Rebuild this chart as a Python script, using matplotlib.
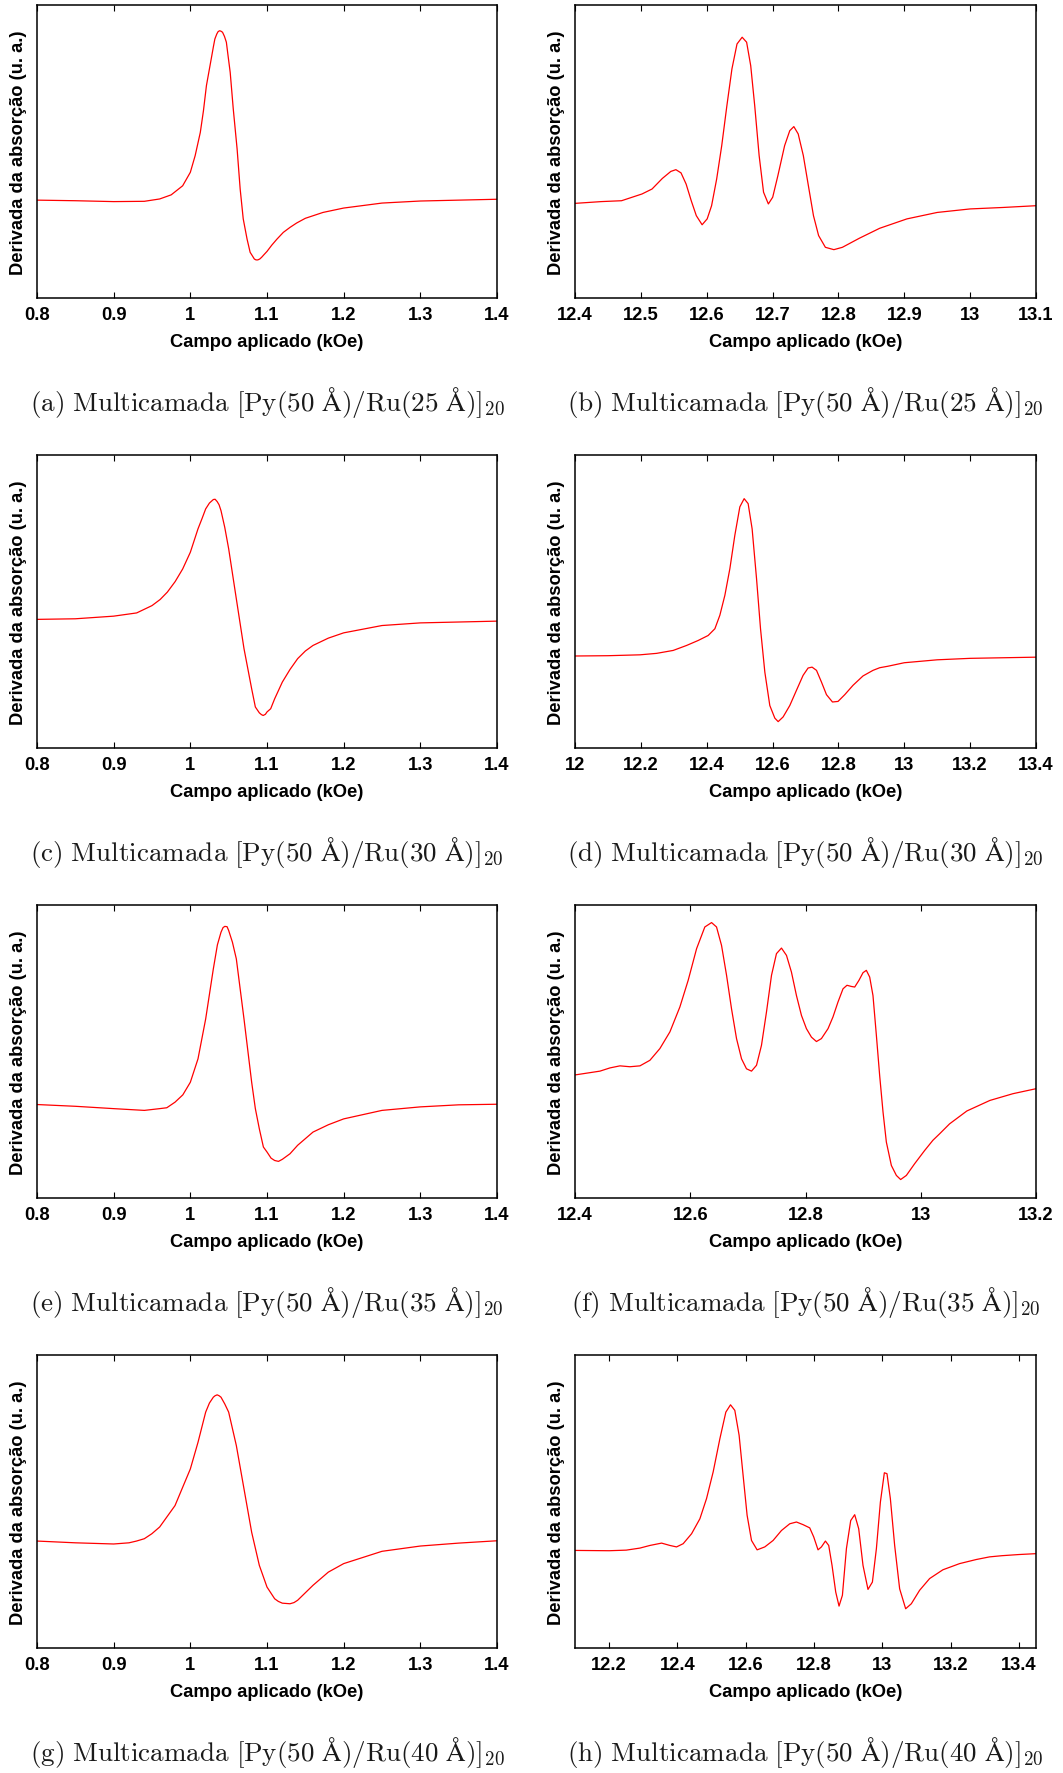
import numpy as np
import matplotlib
matplotlib.use('Agg')
import matplotlib.pyplot as plt

plt.rcParams['mathtext.fontset'] = 'cm'

# (a) Ru 25 A, low field mode
field_a = [0.80, 0.85, 0.90, 0.94, 0.96, 0.975, 0.99, 1.000, 1.0063, 1.013, 1.0171, 1.021, 1.028,
           1.0301, 1.032, 1.0345, 1.0362, 1.038, 1.0397, 1.042, 1.0445, 1.047, 1.0492, 1.052,
           1.056, 1.061, 1.065, 1.069, 1.074, 1.078, 1.0809, 1.0835, 1.0857, 1.088, 1.0905,
           1.093, 1.0961, 1.100, 1.1061, 1.113, 1.1213, 1.130, 1.1387, 1.150, 1.173, 1.200,
           1.250, 1.300, 1.350, 1.400]
signal_a = [33.4, 33.2, 32.9, 33.0, 33.8, 35.2, 38.3, 42.9, 48.6, 56.5, 63.9, 72.5, 82.7,
            85.8, 88.4, 90.1, 90.9, 91.2, 91.1, 90.7, 89.3, 87.3, 82.7, 77.0,
            64.5, 50.9, 37.2, 27.0, 20.1, 15.6, 14.4, 13.3, 13.0, 13.0, 13.3,
            13.9, 14.8, 15.9, 18.0, 20.1, 22.4, 24.1, 25.6, 27.2, 29.2, 30.7,
            32.4, 33.1, 33.4, 33.7]

# (b) Ru 25 A, high field
field_b = [12.40, 12.42, 12.4398, 12.4707, 12.5017, 12.517, 12.5326, 12.5455, 12.5532, 12.561,
           12.5687, 12.5765, 12.5842, 12.593, 12.6007, 12.6074, 12.6151, 12.6228, 12.6306,
           12.6383, 12.646, 12.6538, 12.6606, 12.6668, 12.6729, 12.6796, 12.6863, 12.6936,
           12.7002, 12.708, 12.7183, 12.7261, 12.7323, 12.7389, 12.7467, 12.7544, 12.7621,
           12.7699, 12.7802, 12.7931, 12.806, 12.8318, 12.8627, 12.904, 12.95, 13.00, 13.05, 13.10]
signal_b = [32.3, 32.6, 32.9, 33.2, 35.5, 37.2, 40.8, 43.2, 43.8, 42.7,
            38.9, 33.2, 28.1, 25.0, 27.0, 31.5, 40.6, 52.0, 65.6,
            78.2, 86.7, 89.0, 87.3, 79.3, 65.6, 48.6, 36.1, 32.1,
            34.4, 41.7, 52.0, 57.1, 58.5, 56.0, 48.6, 38.3, 28.1,
            21.3, 17.3, 16.5, 17.3, 20.4, 23.8, 27.0, 29.2, 30.4, 30.9, 31.5]

# (c) Ru 30 A, low field
field_c = [0.80, 0.85, 0.90, 0.93, 0.95, 0.9607, 0.97, 0.9802, 0.99, 1.00, 1.005, 1.01, 1.0154,
           1.02, 1.0249, 1.03, 1.0323, 1.035, 1.0375, 1.04, 1.0449, 1.05, 1.06, 1.07, 1.08,
           1.0848, 1.09, 1.0927, 1.095, 1.0979, 1.10, 1.1048, 1.11, 1.12, 1.13, 1.14, 1.15,
           1.16, 1.18, 1.20, 1.25, 1.30, 1.35, 1.40]
signal_c = [43.9, 44.1, 45.0, 46.1, 48.6, 50.7, 53.2, 56.8, 61.1, 66.8, 70.8, 74.8, 78.4,
            81.6, 83.6, 84.8, 84.9, 84.1, 83.0, 81.0, 75.3, 68.0, 50.9, 33.9, 20.2,
            14.0, 12.0, 11.4, 11.1, 11.5, 12.3, 13.4, 16.8, 22.5, 26.8, 30.5, 33.1,
            35.0, 37.5, 39.3, 41.8, 42.7, 43.0, 43.3]

# (d) Ru 30 A, high field
field_d = [12.00, 12.10, 12.1972, 12.2479, 12.2982, 12.3389, 12.3741, 12.4044, 12.4248, 12.4399,
           12.4551, 12.4703, 12.4854, 12.5006, 12.5137, 12.5258, 12.5379, 12.5513, 12.5634,
           12.5765, 12.5916, 12.6068, 12.617, 12.632, 12.6523, 12.6726, 12.6927, 12.7079, 12.72,
           12.7334, 12.7485, 12.7637, 12.7819, 12.7988, 12.8192, 12.8443, 12.8747, 12.905,
           12.9254, 12.95, 13.00, 13.10, 13.20, 13.40]
signal_d = [31.4, 31.5, 31.8, 32.3, 33.3, 35.0, 36.7, 38.4, 40.7, 45.3,
            52.1, 61.2, 72.6, 82.3, 85.1, 83.4, 74.8, 57.8, 40.7,
            25.9, 14.5, 10.2, 9.0, 10.6, 14.5, 19.7, 24.8, 27.3, 27.6,
            26.5, 22.5, 18.2, 15.7, 15.9, 18.2, 21.4, 24.6, 26.5,
            27.4, 27.9, 29.1, 30.1, 30.6, 31.0]

# (e) Ru 35 A, low field
field_e = [0.80, 0.85, 0.90, 0.94, 0.96, 0.9693, 0.98, 0.9902, 1.00, 1.01, 1.02, 1.03, 1.0353,
           1.04, 1.0427, 1.045, 1.0479, 1.05, 1.0549, 1.06, 1.07, 1.08, 1.0848, 1.09, 1.0953,
           1.10, 1.1053, 1.11, 1.115, 1.12, 1.13, 1.14, 1.16, 1.18, 1.20, 1.25, 1.30, 1.35, 1.40]
signal_e = [31.9, 31.3, 30.5, 29.9, 30.5, 30.8, 32.7, 35.2, 39.5, 47.5, 61.1, 78.2, 86.4,
            90.7, 92.3, 92.7, 92.6, 91.3, 87.3, 81.6, 61.1, 39.5, 30.5, 23.6, 17.4,
            15.7, 13.6, 12.8, 12.5, 13.2, 15.1, 18.0, 22.5, 25.0, 27.0, 29.9, 31.1, 31.8, 32.0]

# (f) Ru 35 A, high field
field_f = [12.40, 12.42, 12.4433, 12.4607, 12.478, 12.4953, 12.5127, 12.53, 12.5473, 12.5647,
           12.582, 12.5964, 12.611, 12.6253, 12.637, 12.6456, 12.6543, 12.663, 12.6716, 12.6803,
           12.689, 12.6976, 12.7063, 12.715, 12.7236, 12.7323, 12.741, 12.7496, 12.7583, 12.767,
           12.7756, 12.7843, 12.793, 12.8016, 12.8103, 12.819, 12.8276, 12.8391, 12.8477,
           12.8564, 12.8651, 12.872, 12.8796, 12.8854, 12.8928, 12.8998, 12.9056, 12.9114,
           12.9171, 12.923, 12.9287, 12.9345, 12.9403, 12.949, 12.9577, 12.9651, 12.975,
           12.9894, 13.0067, 13.0211, 13.0327, 13.05, 13.08, 13.12, 13.16, 13.20]
signal_f = [42.0, 42.6, 43.3, 44.4, 45.1, 44.8, 45.1, 47.0, 51.0, 56.7,
            65.2, 74.3, 85.1, 92.5, 94.0, 92.5, 86.2, 76.0, 64.6, 54.4,
            47.5, 44.1, 43.3, 45.3, 52.1, 63.5, 76.0, 83.4, 85.3, 82.8,
            77.1, 69.1, 62.3, 57.8, 54.9, 53.4, 54.4, 57.8, 61.8,
            66.9, 71.4, 72.6, 72.2, 72.0, 74.3, 76.9, 77.7, 75.4,
            69.1, 55.5, 41.8, 29.4, 19.1, 11.1, 7.7, 6.3, 7.7,
            11.7, 16.2, 19.7, 21.9, 25.3, 29.7, 33.3, 35.6, 37.3]

# (g) Ru 40 A, low field
field_g = [0.80, 0.85, 0.90, 0.92, 0.9298, 0.94, 0.9498, 0.96, 0.98, 1.00, 1.01, 1.02, 1.0249,
           1.03, 1.0323, 1.035, 1.0375, 1.04, 1.0449, 1.05, 1.06, 1.07, 1.08, 1.09, 1.10, 1.11,
           1.1148, 1.12, 1.13, 1.1352, 1.14, 1.16, 1.18, 1.20, 1.25, 1.30, 1.35, 1.40]
signal_g = [36.5, 35.9, 35.5, 35.9, 36.5, 37.3, 39.0, 41.3, 48.6, 61.1, 70.2, 80.5, 83.6,
            85.6, 86.1, 86.4, 86.1, 85.6, 83.3, 80.5, 69.1, 54.3, 39.5, 28.2, 20.8, 16.8,
            15.9, 15.3, 15.1, 15.5, 16.3, 21.4, 25.9, 28.8, 33.0, 34.8, 35.8, 36.6]

# (h) Ru 40 A, high field
field_h = [12.10, 12.20, 12.25, 12.2901, 12.3194, 12.3536, 12.3779, 12.3974, 12.4168, 12.4414,
           12.4657, 12.4852, 12.5046, 12.5242, 12.5417, 12.5554, 12.568, 12.5806, 12.5923,
           12.604, 12.6169, 12.6333, 12.6558, 12.6801, 12.7046, 12.7289, 12.7485, 12.7678,
           12.7874, 12.7991, 12.8117, 12.8216, 12.8333, 12.843, 12.8527, 12.8635, 12.8732,
           12.8831, 12.8948, 12.9074, 12.9191, 12.9308, 12.9434, 12.958, 12.9709, 12.9826,
           12.9943, 13.0059, 13.0136, 13.0235, 13.0361, 13.0507, 13.0683, 13.0849, 13.1092,
           13.1385, 13.1774, 13.2262, 13.2751, 13.314, 13.35, 13.40, 13.45]
signal_h = [33.3, 33.2, 33.4, 34.1, 35.0, 35.8, 35.0, 34.5, 35.6, 39.0,
            44.1, 51.0, 60.1, 71.4, 80.5, 83.0, 81.1, 72.6, 58.9,
            45.3, 36.7, 33.5, 34.5, 36.7, 40.1, 42.4, 43.0, 42.1,
            41.0, 37.9, 33.5, 34.5, 36.5, 35.0, 28.2, 19.1, 14.3,
            18.0, 33.9, 43.5, 45.5, 40.7, 28.2, 20.0, 22.5, 33.9,
            49.8, 59.8, 59.5, 51.0, 35.0, 20.2, 13.4, 15.1, 19.7,
            23.7, 26.7, 28.8, 30.2, 31.1, 31.5, 31.9, 32.2]

fields = [field_a, field_b, field_c, field_d, field_e, field_f, field_g, field_h]
signals = [signal_a, signal_b, signal_c, signal_d, signal_e, signal_f, signal_g, signal_h]

xlims = [(0.8, 1.4), (12.4, 13.1), (0.8, 1.4), (12.0, 13.4),
         (0.8, 1.4), (12.4, 13.2), (0.8, 1.4), (12.1, 13.45)]
low_ticks = [0.8, 0.9, 1.0, 1.1, 1.2, 1.3, 1.4]
low_labels = ['0.8', '0.9', '1', '1.1', '1.2', '1.3', '1.4']
xticks = [low_ticks, [12.4, 12.5, 12.6, 12.7, 12.8, 12.9, 13.0, 13.1],
          low_ticks, [12.0, 12.2, 12.4, 12.6, 12.8, 13.0, 13.2, 13.4],
          low_ticks, [12.4, 12.6, 12.8, 13.0, 13.2],
          low_ticks, [12.2, 12.4, 12.6, 12.8, 13.0, 13.2, 13.4]]
xticklabels = [low_labels, ['12.4', '12.5', '12.6', '12.7', '12.8', '12.9', '13', '13.1'],
               low_labels, ['12', '12.2', '12.4', '12.6', '12.8', '13', '13.2', '13.4'],
               low_labels, ['12.4', '12.6', '12.8', '13', '13.2'],
               low_labels, ['12.2', '12.4', '12.6', '12.8', '13', '13.2', '13.4']]
letters = ['a', 'b', 'c', 'd', 'e', 'f', 'g', 'h']
ru_thickness = ['25', '25', '30', '30', '35', '35', '40', '40']

W, H = 1063.0, 1774.0
fig = plt.figure(figsize=(W / 100, H / 100), dpi=100)

col_left = [37, 575]
col_width = [460, 461]
row_top = [6, 456, 906, 1356]
ax_h = 293

tick_font = dict(family='Liberation Sans', weight='bold', size=13.2)
angstrom = '\u212b'

for i in range(8):
    r, c = i // 2, i % 2
    ax = fig.add_axes([col_left[c] / W, 1 - (row_top[r] + ax_h) / H,
                       col_width[c] / W, ax_h / H])
    ax.plot(fields[i], signals[i], '-', color='red', lw=0.9)
    ax.set_xlim(*xlims[i])
    ax.set_ylim(0, 100)
    ax.set_yticks([])
    ax.set_xticks(xticks[i])
    ax.set_xticklabels(xticklabels[i], fontdict=tick_font)
    ax.tick_params(axis='x', direction='in', top=True, length=4, width=0.8, pad=6)
    for s in ax.spines.values():
        s.set_linewidth(1.1)
    ax.set_xlabel('Campo aplicado (kOe)', fontdict=tick_font, labelpad=7)
    ax.set_ylabel('Derivada da absorção (u. a.)', fontdict=tick_font, labelpad=7)
    cx = (col_left[c] + col_width[c] / 2) / W
    cy = 1 - (row_top[r] + 397) / H
    cap = (r'$\mathrm{(' + letters[i] + r')\ Multicamada\ [Py(50\ ' + angstrom
           + r')/Ru(' + ru_thickness[i] + r'\ ' + angstrom + r')]_{20}}$')
    fig.text(cx, cy, cap, ha='center', va='center', fontsize=19.5, color='#1a1a1a')

plt.savefig('out.png', dpi=100)
